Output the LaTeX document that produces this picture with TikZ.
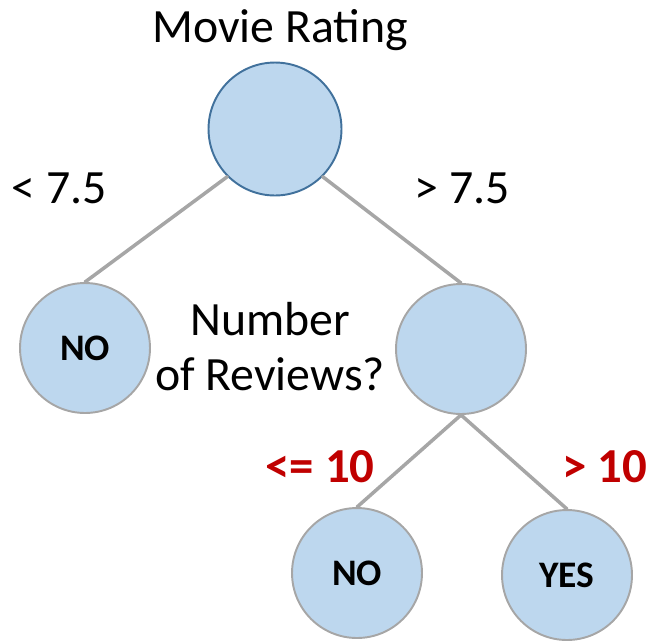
\documentclass[tikz,border=0pt]{standalone}
\usepackage{fontspec}
\setmainfont{Carlito}
\usetikzlibrary{positioning}

\definecolor{nodefill}{HTML}{BDD7EE}
\definecolor{rootedge}{HTML}{41719C}
\definecolor{edgegray}{HTML}{A6A6A6}
\definecolor{condred}{HTML}{C00000}

\begin{document}
\begin{tikzpicture}[x=0.02cm, y=-0.02cm, line cap=round, line join=round,
  leaf/.style={circle, draw=edgegray, line width=1.1pt, fill=nodefill,
    minimum size=2.6cm, inner sep=0pt, font=\fontsize{21.3}{25}\selectfont\bfseries},
  branch/.style={draw=edgegray, line width=2pt},
  label/.style={anchor=base, font=\fontsize{27.2}{31}\selectfont},
  cond/.style={label, text=condred, font=\fontsize{27.8}{32}\selectfont\bfseries}]

% Fix the canvas
\useasboundingbox (0,0) rectangle (651,643);

% Draw the circles
\node[leaf, draw=rootedge, minimum size=2.66cm] (root) at (275,129) {};
\node[leaf] (no1) at (85,348) {NO};
\node[leaf] (reviews) at (461,349) {};
\node[leaf] (no2) at (357,573) {NO};
\node[leaf] (yes) at (567,575) {YES};

% Draw the branches
\draw[branch] (root.-135) -- (no1.north);
\draw[branch] (root.-45) -- (reviews.north);
\draw[branch] (reviews.south) -- (no2.north);
\draw[branch] (reviews.south) -- (yes.north);

% Add the questions
\node[label] (q1) at (280,42) {Movie Rating};
\node[label, align=center, font=\fontsize{27.2}{31.3}\selectfont] (q2) at (270,390) {Number\\of Reviews?};

% Add the conditions
\node[label] (lt) at (59,203) {< 7.5};
\node[label] (gt) at (462,203) {> 7.5};
\node[cond] (le) at (320,482) {<= 10};
\node[cond] (gten) at (605,482) {> 10};

\end{tikzpicture}
\end{document}
